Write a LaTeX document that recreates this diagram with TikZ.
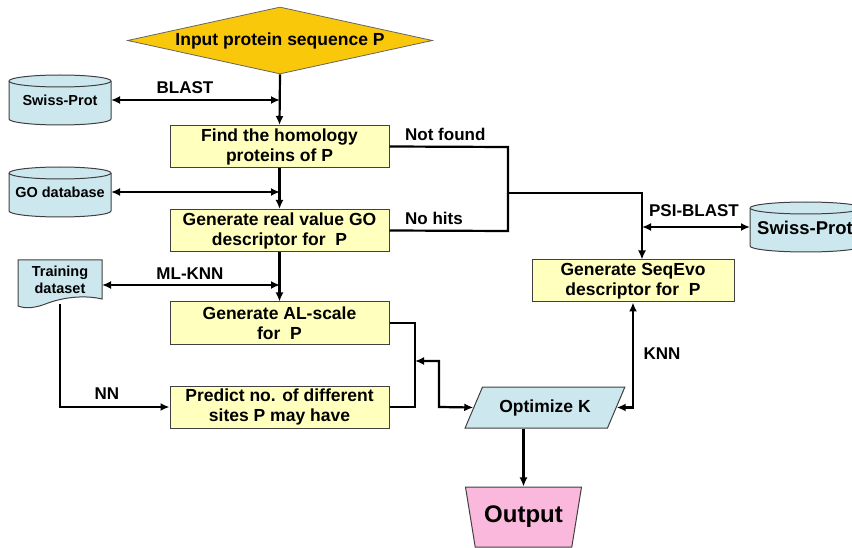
\documentclass[tikz,border=0pt]{standalone}
\usepackage{fontspec}
\setmainfont{Liberation Sans}
\usetikzlibrary{shapes.geometric,arrows.meta,calc}
\definecolor{boxy}{RGB}{255,255,190}
\definecolor{cylb}{RGB}{204,232,238}
\definecolor{goldc}{RGB}{250,200,10}
\definecolor{pinkc}{RGB}{250,185,220}
\newcommand\mycyl[4]{%
 \filldraw[cylsty] (#1-#3,#2-#4+6) -- (#1-#3,#2+#4-6) arc[start angle=180,end angle=360,x radius=#3pt,y radius=6pt] -- (#1+#3,#2-#4+6) arc[start angle=0,end angle=180,x radius=#3pt,y radius=6pt] -- cycle;
 \draw[cylsty] (#1-#3,#2-#4+6) arc[start angle=180,end angle=360,x radius=#3pt,y radius=6pt];}
\begin{document}
\begin{tikzpicture}[x=1pt,y=-1pt,
 every node/.style={font=\bfseries\fontsize{17.5}{20}\selectfont, align=center, inner sep=0pt},
 proc/.style={draw=black!75, line width=1pt, fill=boxy, minimum width=219pt, minimum height=42pt},
 conn/.style={line width=2.2pt, black},
 arr/.style={conn, -{Latex[length=9pt,width=8pt]}},
 darr/.style={conn, {Latex[length=9pt,width=8pt]}-{Latex[length=9pt,width=8pt]}},
 lbl/.style={font=\bfseries\fontsize{17}{20}\selectfont},
 cylsty/.style={draw=black!75, line width=1pt, fill=cylb},
 small/.style={font=\bfseries\fontsize{14.5}{17}\selectfont}]
\useasboundingbox (0,0) rectangle (852,548);
\clip (0,0) rectangle (852,548);

% main column
\node[diamond, aspect=4.55, minimum width=305pt, minimum height=67pt, fill=goldc, draw=black!60, line width=0.8pt] (inp) at (280,40.5) {Input protein sequence P};
\node[proc] (find) at (279.5,146.5) {Find the homology\\proteins of P};
\node[proc] (go) at (279.5,230.5) {Generate real value GO\\descriptor for~ P};
\node[proc] (al) at (279.5,323) {Generate AL-scale\\for~ P};
\node[proc] (pred) at (279.5,407) {Predict no. of different\\sites P may have};
\node[proc, minimum width=202pt] (seq) at (633,281) {Generate SeqEvo\\descriptor for~ P};

% databases
\mycyl{60}{100}{51}{25}
\node[small] (sp1) at (60,100) {Swiss-Prot};
\coordinate (sp1e) at (111,100);
\mycyl{60}{192}{51}{25}
\node[small] (godb) at (60,192) {GO database};
\coordinate (godbe) at (111,192);
\mycyl{806}{227}{56}{25}
\node[font=\bfseries\fontsize{18.5}{20}\selectfont] (sp2) at (805,228) {Swiss-Prot};
\coordinate (sp2w) at (750,227);

% training dataset
\filldraw[draw=black!75, line width=1pt, fill=cylb] (18,260) -- (102,260) -- (102,299) .. controls (85,295) and (65,297) .. (48,303) .. controls (36,308) and (26,309) .. (18,306) -- cycle;
\node[small, text width=84pt] (ds) at (60,280) {Training\\dataset};
\coordinate (dse) at (102,285);
\coordinate (dss) at (60,304);

% optimize and output
\node[trapezium, trapezium left angle=52, trapezium right angle=128, trapezium stretches=true, minimum width=160pt, minimum height=41pt, fill=cylb, draw=black!75, line width=1pt] (opt) at (545,407.5) {Optimize K};
\node[trapezium, shape border rotate=180, trapezium angle=70, trapezium stretches=true, minimum width=117pt, minimum height=60pt, fill=pinkc, draw=black!75, line width=1pt, font=\bfseries\fontsize{24}{28}\selectfont] (out) at (523.5,517) {Output};

% junction coordinates
\coordinate (j1) at (280,100);
\coordinate (j2) at (280,192);
\coordinate (j3) at (280,285);
\coordinate (nf) at (508,147);
\coordinate (nh) at (508,231);
\coordinate (mid) at (508,193);
\coordinate (sq) at (642,193);
\coordinate (psi) at (642,227);
\coordinate (brk1) at (415,323);
\coordinate (brk2) at (415,407);
\coordinate (brkm) at (415,361);
\coordinate (bend) at (439,361);
\coordinate (bend2) at (439,407);

% connectors
\draw[arr] (inp.south) -- (find.north);
\draw[arr] (find.south) -- (go.north);
\draw[arr] (go.south) -- (al.north);
\draw[darr] (sp1e) -- (j1);
\draw[darr] (godbe) -- (j2);
\draw[darr] (dse) -- (j3);
\draw[arr] (dss) |- (pred.west);
\draw[conn] (find.east) -- (nf) -- (nh) -- (go.east);
\draw[arr] (mid) -- (sq) -- (seq.north -| sq);
\draw[darr] (psi) -- (sp2w);
\draw[conn] (al.east) -- (brk1) -- (brk2) -- (pred.east);
\draw[darr] (brkm) -- (bend) -- (bend2) -- (opt.west);
\draw[darr] (opt.east) -| (seq.south);
\draw[arr] (out.north |- opt.south) -- (out.north);

% labels
\node[lbl] (lblast) at (185,88) {BLAST};
\node[lbl] (lmlknn) at (190,274) {ML-KNN};
\node[lbl] (lnn) at (107,394) {NN};
\node[lbl, anchor=west] (lnf) at (405,134) {Not found};
\node[lbl, anchor=west] (lnh) at (405,218) {No hits};
\node[lbl] (lpsi) at (694,211) {PSI-BLAST};
\node[lbl] (lknn) at (662,354) {KNN};
\end{tikzpicture}
\end{document}
